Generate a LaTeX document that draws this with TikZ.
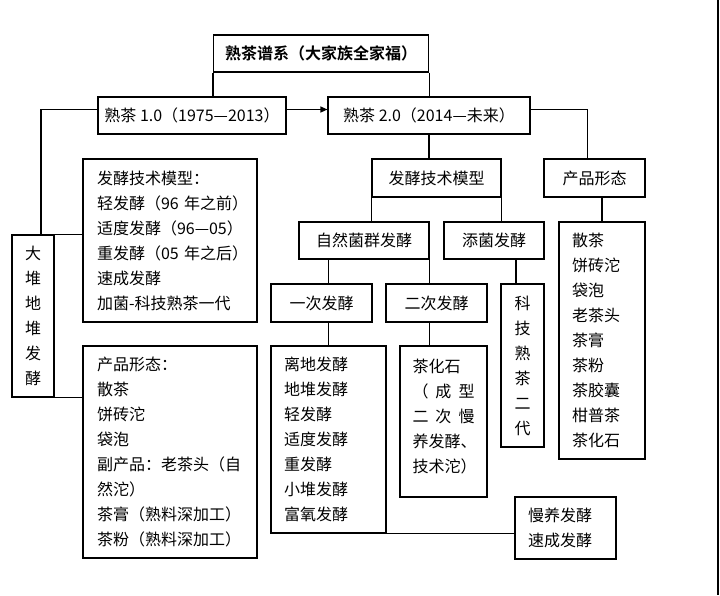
\documentclass[tikz,border=0pt]{standalone}
\usepackage{fontspec}
\setmainfont{Noto Sans CJK SC}[BoldFont={Noto Sans CJK SC Bold}]
\usetikzlibrary{arrows.meta}
\tikzset{
  box/.style={draw, line width=1.1pt, inner sep=0pt, font=\fontsize{16pt}{25pt}\selectfont},
  listbox/.style={box, align=left, inner xsep=13pt},
  vbox/.style={box, align=center},
  link/.style={line width=1.1pt},
}

\begin{document}
\begin{tikzpicture}[x=1pt,y=-1pt]
    \fill[white] (0,0) rectangle (720,595);
    \useasboundingbox (0,0) rectangle (720,595);
    % Title
    \node[box, font=\fontsize{16pt}{25pt}\selectfont\bfseries, minimum width=215pt, minimum height=37pt] (title) at (321,53.5) {熟茶谱系（大家族全家福）};
    % Generations
    \node[box, minimum width=188pt, minimum height=37pt] (gen1) at (192,115.5) {熟茶 1.0（1975—2013）};
    \node[box, minimum width=202pt, minimum height=37pt] (gen2) at (429,115.5) {熟茶 2.0（2014—未来）};
    % Generation 1 branch
    \node[vbox, minimum width=42pt, minimum height=162pt] (pile) at (33,316) {大\\堆\\地\\堆\\发\\酵};
    \node[listbox, inner xsep=14pt, text width=146pt, minimum width=174pt, minimum height=163pt] (tech1) at (170,240.5) {发酵技术模型：\\轻发酵（96~年之前）\\适度发酵（96—05）\\重发酵（05~年之后）\\速成发酵\\加菌-科技熟茶一代};
    \node[listbox, inner xsep=14pt, text width=146pt, minimum width=174pt, minimum height=212pt] (form1) at (170,452) {产品形态：\\散茶\\饼砖沱\\袋泡\\副产品：老茶头（自\\然沱）\\茶膏（熟料深加工）\\茶粉（熟料深加工）};
    % Generation 2 branch
    \node[box, minimum width=129pt, minimum height=38pt] (tech2) at (436.5,178) {发酵技术模型};
    \node[box, minimum width=101pt, minimum height=38pt] (form2) at (594.5,178) {产品形态};
    \node[box, minimum width=130pt, minimum height=37pt] (natural) at (364,240.5) {自然菌群发酵};
    \node[box, minimum width=100pt, minimum height=37pt] (added) at (494,240.5) {添菌发酵};
    \node[listbox, text width=60pt, minimum width=86pt, minimum height=237pt] (forms) at (602,340.5) {散茶\\饼砖沱\\袋泡\\老茶头\\茶膏\\茶粉\\茶胶囊\\柑普茶\\茶化石};
    \node[box, minimum width=101pt, minimum height=38pt] (first) at (321.5,303) {一次发酵};
    \node[box, minimum width=101pt, minimum height=38pt] (second) at (436.5,303) {二次发酵};
    \node[vbox, minimum width=43pt, minimum height=163pt] (tech3) at (522.5,365.5) {科\\技\\熟\\茶\\二\\代};
    \node[listbox, text width=89pt, minimum width=115pt, minimum height=187pt] (firstlist) at (328.5,439.5) {离地发酵\\地堆发酵\\轻发酵\\适度发酵\\重发酵\\小堆发酵\\富氧发酵};
    \node[listbox, inner xsep=12.5pt, text width=62pt, minimum width=87pt, minimum height=151pt] (secondlist) at (443.5,421.5) {茶化石\\\makebox[62pt][s]{（\hfill 成\hfill 型}\\\makebox[62pt][s]{二\hfill 次\hfill 慢}\\养发酵、\\技术沱）\\[-13pt]\mbox{}};
    \node[listbox, text width=75pt, minimum width=101pt, minimum height=62pt] (slow) at (565.5,528) {慢养发酵\\速成发酵};
    % Connectors
    \draw[link] (title.south west) -- (title.south west |- gen1.north);
    \draw[link] (title.south east) -- (title.south east |- gen2.north);
    \draw[link, -{Triangle[length=7pt, width=6pt]}] ([yshift=6pt]gen1.east) -- ([yshift=6pt]gen2.west);
    \draw[link] ([yshift=6pt]gen1.west) -| ([xshift=8pt]pile.north);
    \draw[link] (pile.north east) -- (pile.north east -| tech1.west);
    \draw[link] (pile.south east) -- (pile.south east -| form1.west);
    \draw[link] ([yshift=6pt]gen2.east) -| ([xshift=-7pt]form2.north);
    \draw[link] (gen2.south) -- (gen2.south |- tech2.north);
    \draw[link] (tech2.south west) -- (tech2.south west |- natural.north);
    \draw[link] (tech2.south east) -- (tech2.south east |- added.north);
    \draw[link] (forms.north) -- (forms.north |- form2.south);
    \draw[link] (firstlist.north |- natural.south) -- (firstlist.north |- first.north);
    \draw[link] (firstlist.north |- first.south) -- (firstlist.north);
    \draw[link] (natural.south east) -- (natural.south east |- second.north);
    \draw[link] (natural.south east |- second.south) -- (natural.south east |- secondlist.north);
    \draw[link] ([xshift=22pt]added.south) -- ([xshift=22pt]added.south |- tech3.north);
    \draw[link] (firstlist.south east) -- (firstlist.south east -| slow.west);
    % Right edge
    \draw[link] (718,0) -- (718,595);
\end{tikzpicture}
\end{document}
